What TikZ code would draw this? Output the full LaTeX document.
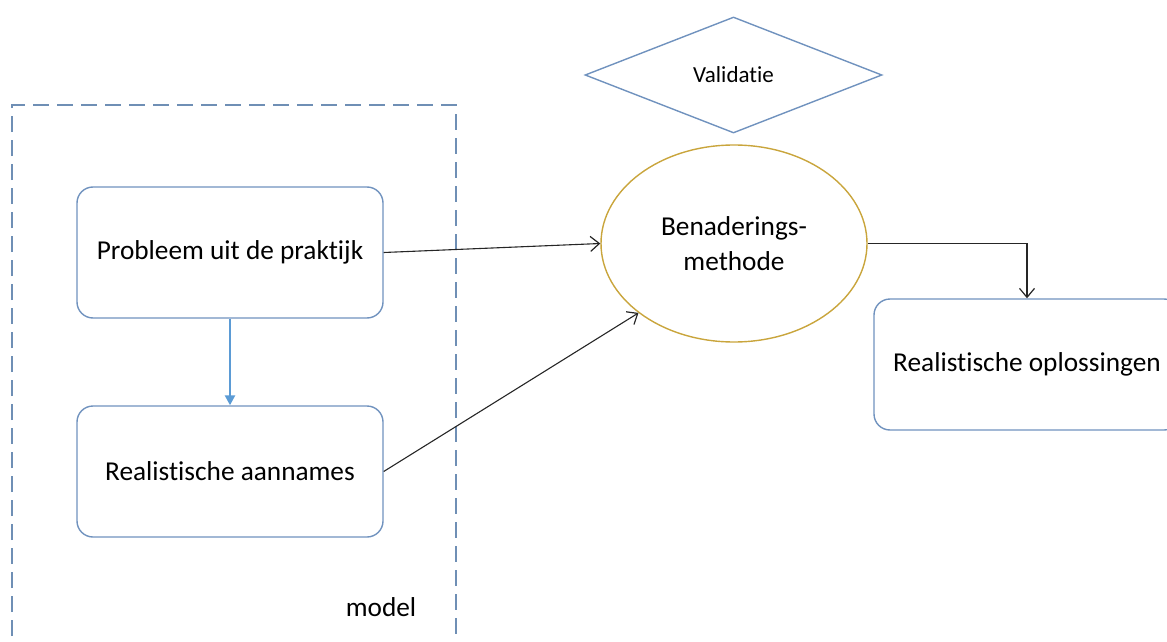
\documentclass[tikz,border=0pt]{standalone}
\usepackage{fontspec}
\setmainfont{Carlito}[Ligatures={NoCommon}]
\usetikzlibrary{shapes.geometric,arrows.meta}
\definecolor{boxblue}{HTML}{7092BE}
\definecolor{dashblue}{HTML}{6F8FB5}
\definecolor{arrowblue}{HTML}{5B9BD5}
\definecolor{gold}{HTML}{C9A53C}
\tikzset{
  roundbox/.style={draw=boxblue, line width=1.4pt, rounded corners=16pt,
    minimum width=306, minimum height=131, inner sep=0pt,
    font=\fontsize{27.3}{34}\selectfont, text=black},
  conn/.style={draw=black!85, line width=1.1pt, -{Straight Barb[length=9pt,width=15pt,line width=1.2pt]}},
}
\begin{document}
\begin{tikzpicture}[x=1pt,y=-1pt]
\useasboundingbox (0,0) rectangle (1167,642);
% dashed model frame (open at bottom, extends beyond view)
\draw[dashblue, line width=1.5pt, dash pattern=on 16pt off 8pt]
  (12,660) -- (12,105) -- (456,105) -- (456,660);
\node[font=\fontsize{27.3}{34}\selectfont] (model) at (381,607) {model};

\node[roundbox] (p) at (230,252.5) {Probleem uit de praktijk};
\node[roundbox] (a) at (230,471.5) {Realistische aannames};
\node[roundbox] (o) at (1027,364.5) {Realistische oplossingen};

\node[ellipse, draw=gold, line width=1.4pt, minimum width=266, minimum height=197,
  inner sep=0pt, align=center, font=\fontsize{27.3}{35}\selectfont] (e) at (734,243.5)
  {Benaderings-\\methode};

\node[diamond, draw=boxblue, line width=1.4pt, minimum width=297, minimum height=116,
  inner sep=0pt, font=\fontsize{23}{27}\selectfont] (v) at (733.5,75) {Validatie};

\draw[arrowblue, line width=2.4pt, -{Triangle[length=10pt,width=10pt]}] (p.south) -- (a.north);
\draw[conn] (p.east) -- (e.west);
\draw[conn] (a.east) -- (e.216);
\draw[conn] (e.east) -| (o.north);
\end{tikzpicture}
\end{document}
